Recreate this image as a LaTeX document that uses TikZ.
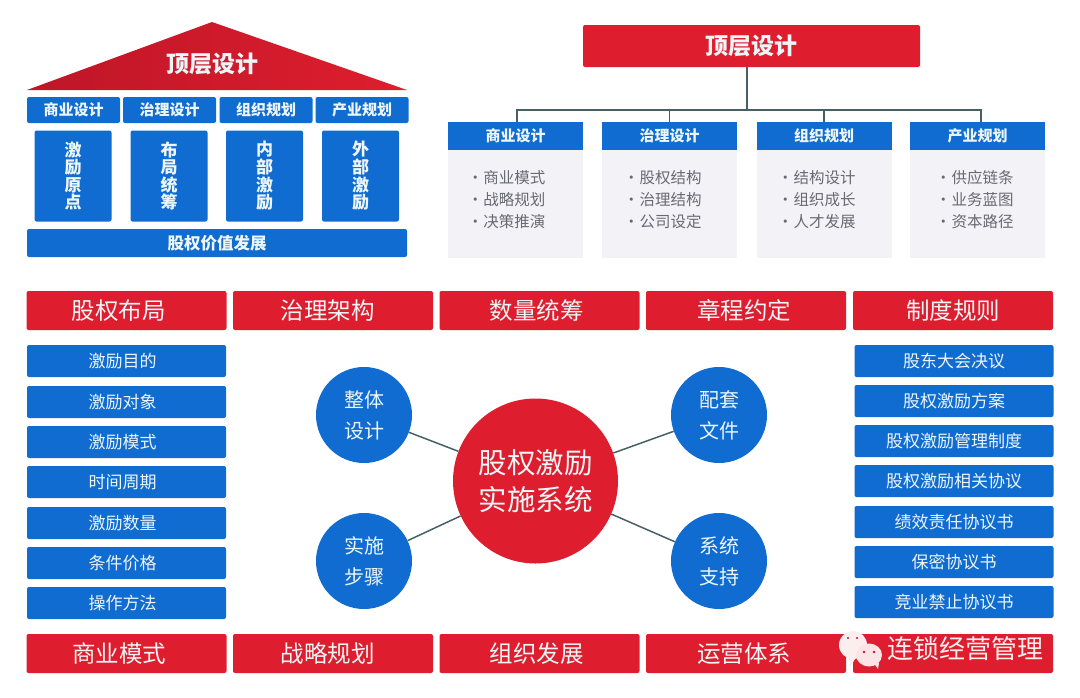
\documentclass[tikz,border=0pt]{standalone}
\usepackage{fontspec}
\setmainfont{Noto Sans CJK SC}
\usetikzlibrary{calc}

\definecolor{boxblue}{RGB}{16,108,208}
\definecolor{boxred}{RGB}{222,30,46}
\definecolor{roofdark}{RGB}{190,22,40}
\definecolor{softwhite}{RGB}{236,246,248}
\definecolor{panelgray}{RGB}{243,243,247}
\definecolor{panelink}{RGB}{105,105,112}
\definecolor{linkgray}{RGB}{70,96,100}

\newcommand{\fs}[1]{\fontsize{#1}{#1}\selectfont}
\newcommand{\lefted}[2]{#2\kern#1pt}
\newcommand{\dotted}[1]{•\kern0.5pt #1}

\tikzset{
  bluebox/.style={fill=boxblue, text=softwhite, rounded corners=2pt, inner sep=0pt, align=center},
  redbox/.style={fill=boxred, text=softwhite, rounded corners=2pt, inner sep=0pt, align=center},
  cap row/.style={bluebox, minimum width=93pt, minimum height=26pt, font=\fs{15}\bfseries},
  pillar/.style={bluebox, minimum width=77pt, minimum height=91pt, font=\fontsize{17}{17.6}\selectfont\bfseries},
  head box/.style={fill=boxblue, text=softwhite, inner sep=0pt, minimum width=135pt, minimum height=28pt, font=\fs{15}\bfseries},
  panel box/.style={fill=panelgray, inner sep=0pt, minimum width=135pt, minimum height=108pt},
  panel text/.style={text=panelink, inner sep=0pt, align=left, font=\fontsize{15.5}{22}\selectfont},
  red bar/.style={redbox, minimum width=200pt, minimum height=39pt, font=\fs{23.5}},
  list box/.style={bluebox, minimum width=199pt, minimum height=32pt, font=\fs{17}},
  small disc/.style={circle, fill=boxblue, text=softwhite, inner sep=0pt, minimum size=96pt, align=center, font=\fontsize{20}{31}\selectfont},
  link/.style={draw=linkgray, line width=1.5pt},
}

\begin{document}
\begin{tikzpicture}[x=1pt,y=-1pt]

\useasboundingbox (0,0) rectangle (1080,697);

% Roof
\coordinate (roofL) at (27,90);
\coordinate (roofR) at (407,90);
\coordinate (roofT) at (212,22);
\shade[left color=roofdark, middle color=boxred, right color=boxred] (roofL) -- (roofT) -- (roofR) -- cycle;
\node[text=softwhite, font=\fs{23}\bfseries] (roofText) at (212,64) {顶层设计};

% Row under the roof
\node[cap row] (capA) at (73.5,110) {商业设计};
\node[cap row] (capB) at (169.5,110) {治理设计};
\node[cap row] (capC) at (266,110) {组织规划};
\node[cap row] (capD) at (362,110) {产业规划};

% Pillars
\node[pillar] (pilA) at (73,176) {激\\励\\原\\点};
\node[pillar] (pilB) at (169,176) {布\\局\\统\\筹};
\node[pillar] (pilC) at (264.5,176) {内\\部\\激\\励};
\node[pillar] (pilD) at (360.5,176) {外\\部\\激\\励};

% Base
\node[bluebox, minimum width=380pt, minimum height=28pt, font=\fs{16.5}\bfseries] (base) at (217,243) {股权价值发展};

% Tree on the right
\node[redbox, minimum width=337pt, minimum height=42pt, font=\fs{23}\bfseries] (top) at (751.5,46) {顶层设计};

\node[panel box] (panA) at (515.5,204) {};
\node[panel box] (panB) at (669.5,204) {};
\node[panel box] (panC) at (824,204) {};
\node[panel box] (panD) at (977.5,204) {};

\node[head box] (headA) at (515.5,136) {商业设计};
\node[head box] (headB) at (669.5,136) {治理设计};
\node[head box] (headC) at (824,136) {组织规划};
\node[head box] (headD) at (977.5,136) {产业规划};

\node[panel text] (txtA) at (506.5,200) {\dotted{商业模式}\\\dotted{战略规划}\\\dotted{决策推演}};
\node[panel text] (txtB) at (662.5,200) {\dotted{股权结构}\\\dotted{治理结构}\\\dotted{公司设定}};
\node[panel text] (txtC) at (816.5,200) {\dotted{结构设计}\\\dotted{组织成长}\\\dotted{人才发展}};
\node[panel text] (txtD) at (974.5,200) {\dotted{供应链条}\\\dotted{业务蓝图}\\\dotted{资本路径}};

% Tree lines
\coordinate (hub) at (747,110);
\draw[link] (top.south -| hub) -- (hub);
\draw[link] ([xshift=1.5pt]headA.north) |- (hub);
\draw[link] (headB.north) |- (hub);
\draw[link] (headC.north) |- (hub);
\draw[link] ([xshift=3.5pt]headD.north) |- (hub);

% Red bars
\node[red bar] (barA) at (126.5,310.5) {\lefted{16}{股权布局}};
\node[red bar] (barB) at (333,310.5) {\lefted{11}{治理架构}};
\node[red bar] (barC) at (539.5,310.5) {\lefted{6}{数量统筹}};
\node[red bar] (barD) at (746,310.5) {\lefted{4}{章程约定}};
\node[red bar] (barE) at (953,310.5) {制度规则};

\node[red bar] (lowA) at (126.5,653.5) {\lefted{15}{商业模式}};
\node[red bar] (lowB) at (333,653.5) {\lefted{11}{战略规划}};
\node[red bar] (lowC) at (539.5,653.5) {\lefted{6}{组织发展}};
\node[red bar] (lowD) at (746,653.5) {\lefted{4}{运营体系}};
\node[red bar] (lowE) at (953,653.5) {};

% Left list
\node[list box] (leftA) at (126.5,361) {\lefted{8}{激励目的}};
\node[list box] (leftB) at (126.5,402) {\lefted{8}{激励对象}};
\node[list box] (leftC) at (126.5,442) {\lefted{8}{激励模式}};
\node[list box] (leftD) at (126.5,482) {\lefted{8}{时间周期}};
\node[list box] (leftE) at (126.5,523) {\lefted{8}{激励数量}};
\node[list box] (leftF) at (126.5,563) {\lefted{8}{条件价格}};
\node[list box] (leftG) at (126.5,603) {\lefted{8}{操作方法}};

% Right list
\node[list box] (rightA) at (954,361) {股东大会决议};
\node[list box] (rightB) at (954,401) {股权激励方案};
\node[list box] (rightC) at (954,441) {股权激励管理制度};
\node[list box] (rightD) at (954,481) {股权激励相关协议};
\node[list box] (rightE) at (954,522) {绩效责任协议书};
\node[list box] (rightF) at (954,562) {保密协议书};
\node[list box] (rightG) at (954,602) {竞业禁止协议书};

% Discs
\node[circle, fill=boxred, text=softwhite, inner sep=0pt, minimum size=165pt, align=center, font=\fontsize{28.5}{37}\selectfont] (hubDisc) at (535.5,481) {股权激励\\实施系统};
\node[small disc] (discA) at (364,415) {整体\\设计};
\node[small disc] (discB) at (719,415) {配套\\文件};
\node[small disc] (discC) at (364,561) {实施\\步骤};
\node[small disc] (discD) at (719,561) {系统\\支持};

\draw[link] (discA) -- (hubDisc);
\draw[link] (discB) -- (hubDisc);
\draw[link] (discC) -- (hubDisc);
\draw[link] (discD) -- (hubDisc);

% Watermark
\fill[white!92!boxred] (853,645) ellipse (14 and 14);
\fill[white!92!boxred] (849,657) -- (856,657) -- (850,668) -- cycle;
\fill[white!88!boxred] (869,655) ellipse (13 and 11.5);
\fill[white!88!boxred] (873,662) -- (879,663) -- (878,669) -- cycle;
\fill[roofdark] (848,638) circle (1.2);
\fill[roofdark] (857,638) circle (1.2);
\fill[roofdark] (864,652) circle (1.3);
\fill[roofdark] (874,652) circle (1.3);
\node[text=white!92!boxred, font=\fs{26}] (mark) at (965,649) {连锁经营管理};

\end{tikzpicture}
\end{document}
